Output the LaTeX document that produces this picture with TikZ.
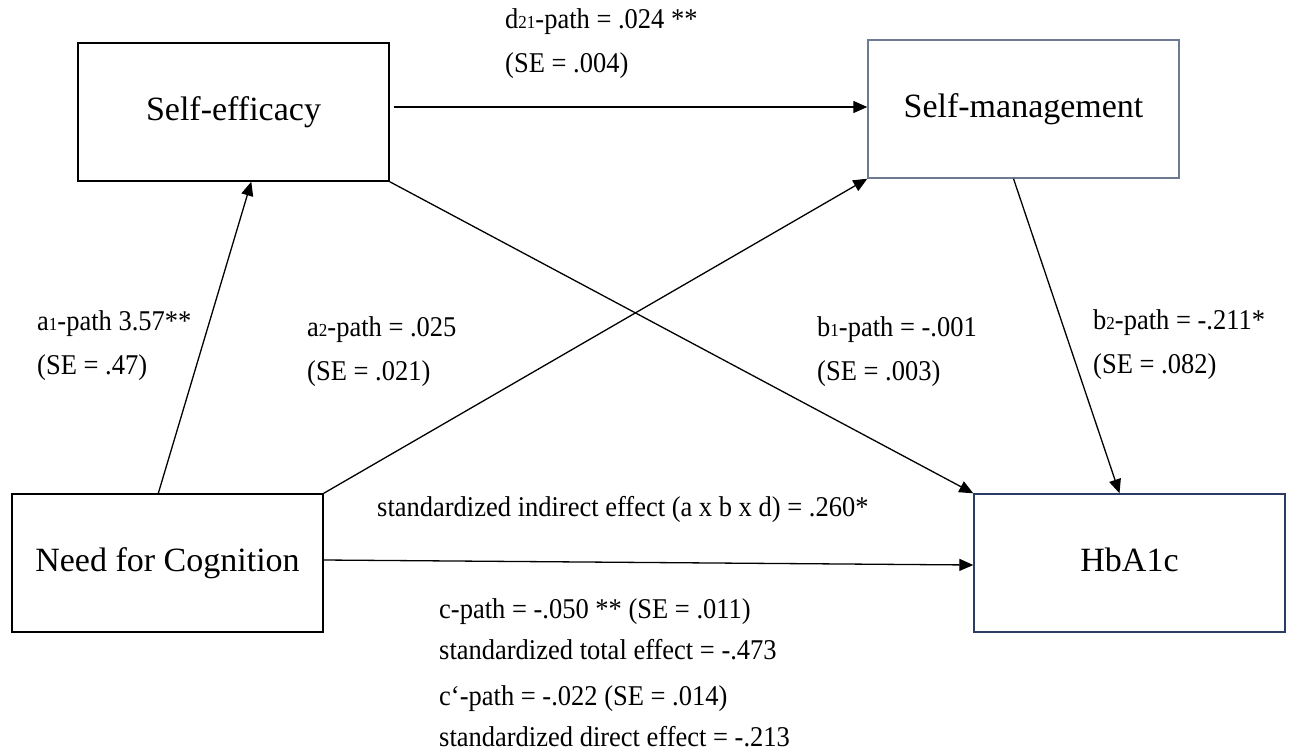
\documentclass[tikz,border=0pt]{standalone}
\usepackage{fontspec}
\usepackage{graphicx}
\setmainfont{Liberation Serif}
\usetikzlibrary{arrows.meta}
\definecolor{smcol}{RGB}{110,122,145}
\definecolor{hbcol}{RGB}{45,60,100}
\newcommand{\smalldig}[1]{{\fontsize{17}{17}\selectfont #1}}
\newcommand{\labtxt}[1]{\scalebox{1}[1.08]{#1}}
\begin{document}
\begin{tikzpicture}[x=1pt,y=-1pt,
  box/.style={draw,line width=1.4pt,minimum width=311pt,minimum height=138pt,inner sep=0pt,
    font=\fontsize{34}{40}\selectfont,text height=23pt,text depth=7pt},
  lab/.style={anchor=base west,inner sep=0pt,font=\fontsize{26.5}{30}\selectfont},
  conn/.style={line width=1.3pt,-{Triangle[length=14pt,width=12pt]}}]
\useasboundingbox (0,0) rectangle (1290,753);

% boxes
\node[box] (se) at (233.5,112) {Self-efficacy};
\node[box,draw=smcol] (sm) at (1023.5,109) {Self-management};
\node[box] (nfc) at (167.5,563) {Need for Cognition};
\node[box,draw=hbcol] (hb) at (1129.5,563) {HbA1c};

% connectors
\draw[conn] ([xshift=4pt,yshift=5pt]se.east) -- ([yshift=2pt]sm.west);
\draw[conn] ([xshift=147pt]nfc.north west) -- ([xshift=174pt]se.south west);
\draw[conn] (nfc.north east) -- (sm.south west);
\draw[conn] (se.south east) -- (hb.north west);
\draw[conn] ([xshift=-10pt]sm.south) -- ([xshift=-10pt]hb.north);
\draw[conn] ([yshift=3pt]nfc.east) -- ([yshift=-2pt]hb.west);

% labels
\node[lab] (ld1) at (505,28) {\labtxt{d\smalldig{21}-path = .024 **}};
\node[lab] (ld2) at (505,72) {\labtxt{(SE = .004)}};
\node[lab] (la11) at (37,330) {\labtxt{a\smalldig{1}-path 3.57**}};
\node[lab] (la12) at (37,374) {\labtxt{(SE = .47)}};
\node[lab] (la21) at (307,336) {\labtxt{a\smalldig{2}-path = .025}};
\node[lab] (la22) at (307,380) {\labtxt{(SE = .021)}};
\node[lab] (lb11) at (817,336) {\labtxt{b\smalldig{1}-path = -.001}};
\node[lab] (lb12) at (817,380) {\labtxt{(SE = .003)}};
\node[lab] (lb21) at (1093,329) {\labtxt{b\smalldig{2}-path = -.211*}};
\node[lab] (lb22) at (1093,373) {\labtxt{(SE = .082)}};
\node[lab] (lind) at (377,516) {\labtxt{standardized indirect effect (a x b x d) = .260*}};
\node[lab] (lc1) at (439,618) {\labtxt{c-path = -.050 ** (SE = .011)}};
\node[lab] (lc2) at (439,659) {\labtxt{standardized total effect = -.473}};
\node[lab] (lc3) at (439,705) {\labtxt{c‘-path = -.022 (SE = .014)}};
\node[lab] (lc4) at (439,746) {\labtxt{standardized direct effect = -.213}};
\end{tikzpicture}
\end{document}
